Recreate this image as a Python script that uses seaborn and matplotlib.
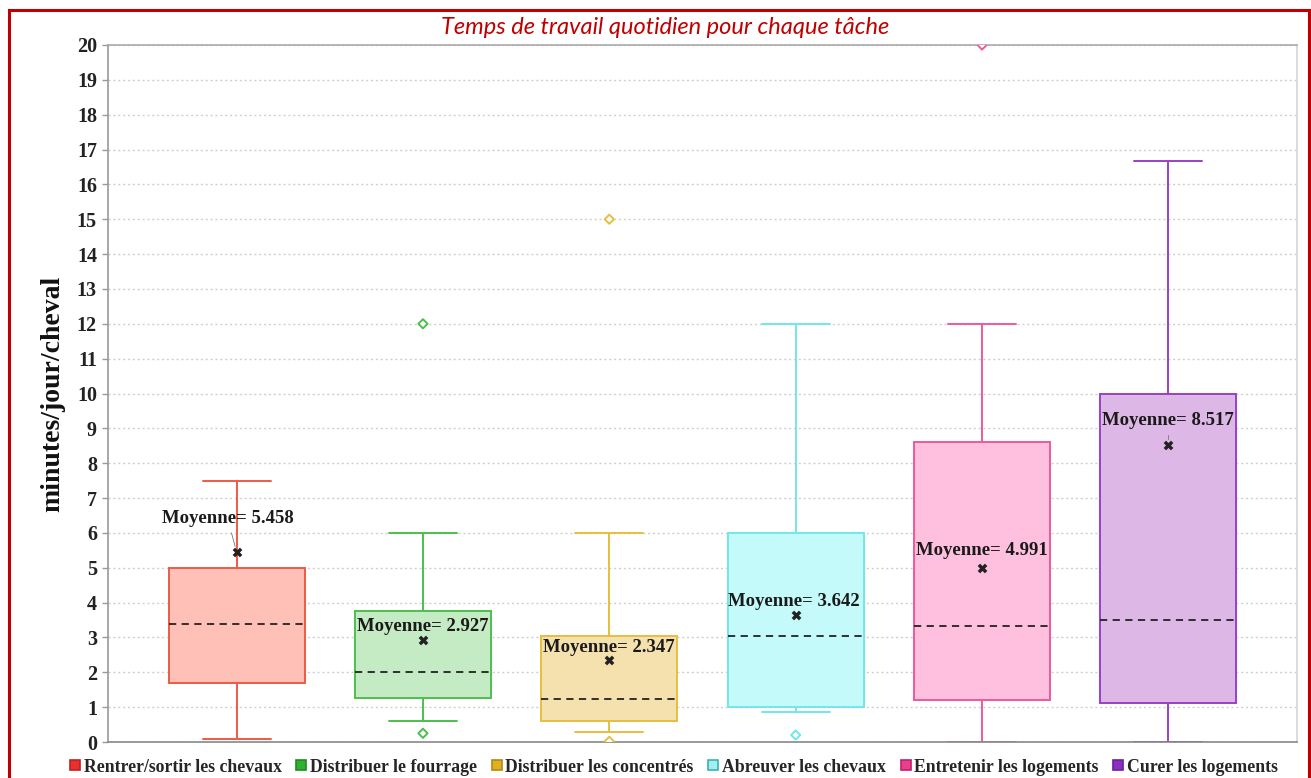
import numpy as np
import pandas as pd
import matplotlib
matplotlib.use("Agg")
import matplotlib.pyplot as plt
import matplotlib.patches as mpatches
from matplotlib.lines import Line2D
import seaborn as sns

# ---------------- data ----------------
categories = ["Rentrer/sortir les chevaux", "Distribuer le fourrage",
              "Distribuer les concentrés", "Abreuver les chevaux",
              "Entretenir les logements", "Curer les logements"]
whisker_low = [0.1, 0.6, 0.3, 0.87, 0.0, 0.0]
quartile1 = [1.7, 1.25, 0.6, 1.0, 1.2, 1.12]
medians = [3.4, 2.0, 1.22, 3.03, 3.33, 3.5]
quartile3 = [5.0, 3.75, 3.03, 6.0, 8.6, 10.0]
whisker_high = [7.5, 6.0, 6.0, 12.0, 12.0, 16.67]
means = [5.458, 2.927, 2.347, 3.642, 4.991, 8.517]
outlier_cats = ["Distribuer le fourrage", "Distribuer le fourrage",
                "Distribuer les concentrés", "Distribuer les concentrés",
                "Abreuver les chevaux", "Entretenir les logements"]
outlier_vals = [12.0, 0.25, 15.0, 0.02, 0.2, 20.0]
y_ticks = list(range(0, 21))

# ---------------- style ----------------
fill_colors = ["#FFC0B8", "#C4EBC4", "#F5E1AE", "#C4FAFA", "#FFC0E0", "#DDB8E6"]
edge_colors = ["#EE5A45", "#4CC04C", "#E8BE40", "#70E8E8", "#EE5A9A", "#9A40C8"]
legend_faces = ["#E83030", "#30B030", "#E0B020", "#A0F0F0", "#E8408A", "#8A30C0"]
legend_edges = ["#C02020", "#208A20", "#B08A10", "#40B0B0", "#C02070", "#6A20A0"]
label_offsets = [(-6.5, 24), (0, 10), (0, 9.5), (-1, 9.5), (0, 13), (0, 17.5)]

sns.set_theme(style="white")
plt.rcParams["font.family"] = ["Liberation Serif", "DejaVu Serif"]

# long-form frame: five summary values per task
rows = []
for c, a, b, m, d, e in zip(categories, whisker_low, quartile1, medians,
                            quartile3, whisker_high):
    for v in (a, b, m, d, e):
        rows.append({"tache": c, "val": v})
df = pd.DataFrame(rows)

fig = plt.figure(figsize=(13.11, 7.78), dpi=100)
ax = fig.add_axes([108 / 1311, 36 / 778, (1297 - 108) / 1311, (742 - 45) / 778])

for c, fc, ec in zip(categories, fill_colors, edge_colors):
    sns.boxplot(data=df[df["tache"] == c], x="tache", y="val", order=categories,
                color=fc, linecolor=ec, saturation=1, width=0.73,
                whis=(0, 100), showfliers=False, linewidth=1.4,
                medianprops=dict(color="#222222", linestyle=(0, (4, 3)),
                                 linewidth=1.3),
                ax=ax)

# outliers
pos = {c: i for i, c in enumerate(categories)}
ax.scatter([pos[c] for c in outlier_cats], outlier_vals, marker="D", s=22,
           facecolor="white",
           edgecolor=[edge_colors[pos[c]] for c in outlier_cats],
           linewidth=1.4, zorder=5, clip_on=True)

# means
sns.stripplot(x=categories, y=means, order=categories, jitter=False,
              marker="X", color="#222222", size=7, ax=ax, zorder=6)

for i, (c, m) in enumerate(zip(categories, means)):
    dx, dy = label_offsets[i]
    ax.annotate(f"Moyenne= {m:.3f}", xy=(i, m), xytext=(dx, dy),
                textcoords="offset points", ha="center", va="center",
                fontsize=13.5, fontweight="bold", color="#1a1a1a", zorder=7,
                arrowprops=dict(arrowstyle="-", color="#777777", lw=0.6,
                                shrinkA=2, shrinkB=4) if i in (0, 5) else None)

ax.set_ylim(0, 20)
ax.set_xlim(-0.69, 5.69)
ax.set_yticks(y_ticks)
ax.set_yticklabels([str(t) for t in y_ticks], fontsize=14.5, fontweight="bold",
                   color="#222222")
ax.set_xticks([])
ax.set_xlabel("")
ax.set_ylabel("minutes/jour/cheval", fontsize=20, fontweight="bold", labelpad=8,
              color="#111111")
ax.tick_params(axis="y", left=True, length=4, width=1, color="#999999", pad=4)
ax.yaxis.grid(True, linestyle=(0, (1.5, 2)), color="#cfcfcf", linewidth=1)
ax.set_axisbelow(True)
for s, col in (("left", "#999999"), ("bottom", "#888888"),
               ("top", "#aaaaaa"), ("right", "#d5d5d5")):
    ax.spines[s].set_visible(True)
    ax.spines[s].set_color(col)
    ax.spines[s].set_linewidth(1.2)

# title
fig.text(665 / 1311, 1 - 28 / 778, "Temps de travail quotidien pour chaque tâche",
         color="#C00000", fontsize=17, style="italic", family="Lato",
         ha="center", va="center")

# legend
handles = [Line2D([0], [0], marker="s", linestyle="none", markersize=6.5,
                  markerfacecolor=fc, markeredgecolor=ec, markeredgewidth=1.2)
           for fc, ec in zip(legend_faces, legend_edges)]
fig.legend(handles, categories, loc="center", bbox_to_anchor=(672 / 1311, 1 - 767 / 778),
           ncol=6, frameon=False, handletextpad=0.0, columnspacing=0.6,
           handlelength=1.0, prop=dict(family="Liberation Serif", weight="bold", size=12.8))

# red frame
fig.patches.append(mpatches.Rectangle((9 / 1311, -0.05), 1300 / 1311, 1 - 10 / 778 + 0.05,
                                      transform=fig.transFigure, fill=False,
                                      edgecolor="#C00000", linewidth=2.2))

fig.savefig("out.png", dpi=100)
